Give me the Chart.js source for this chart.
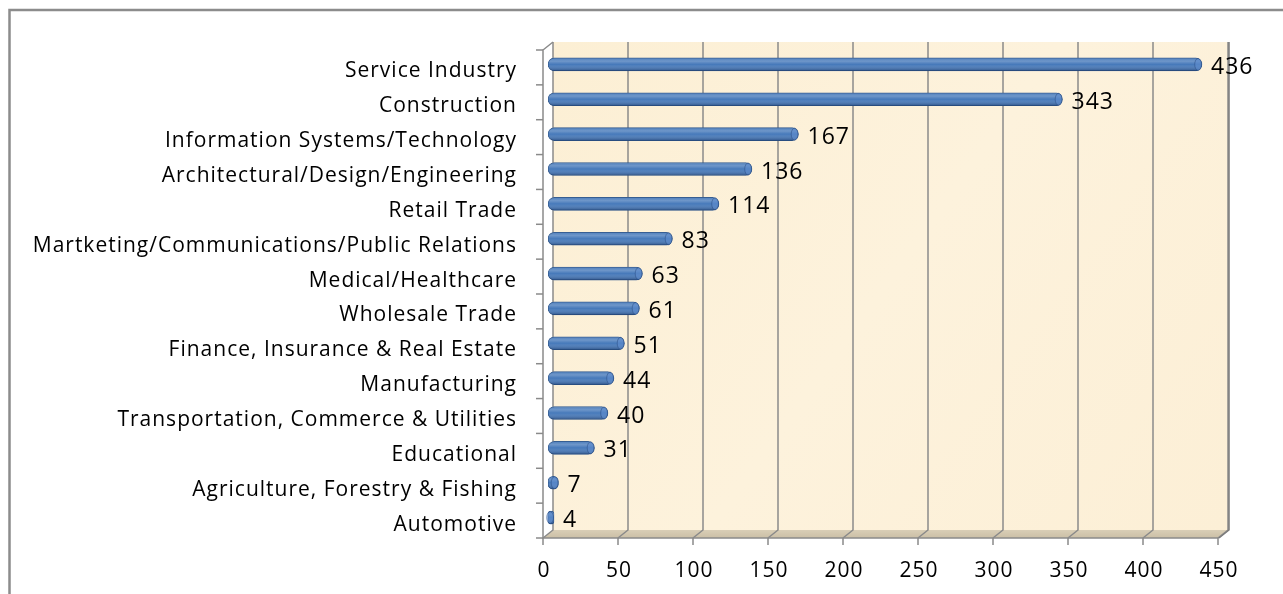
<!DOCTYPE html>
<html>
<head>
<meta charset="utf-8">
<script src="https://cdn.jsdelivr.net/npm/chart.js@4"></script>
<style>
  html,body{margin:0;padding:0;background:#fff;}
  canvas{display:block;}
</style>
</head>
<body>
<canvas id="chart" width="1283" height="594"></canvas>
<script>
// data
const categories = [
  'Service Industry',
  'Construction',
  'Information Systems/Technology',
  'Architectural/Design/Engineering',
  'Retail Trade',
  'Martketing/Communications/Public Relations',
  'Medical/Healthcare',
  'Wholesale Trade',
  'Finance, Insurance & Real Estate',
  'Manufacturing',
  'Transportation, Commerce & Utilities',
  'Educational',
  'Agriculture, Forestry & Fishing',
  'Automotive'
];
const counts = [436, 343, 167, 136, 114, 83, 63, 61, 51, 44, 40, 31, 7, 4];
const xTicks = [0, 50, 100, 150, 200, 250, 300, 350, 400, 450];

const FONT = '"Open Sans", "DejaVu Sans", sans-serif';
const GRID = '#8a8a8a';
// 3d depth offsets (back wall / front axis relative to bar plane)
const BX = 5, BY = -5, FX = -5, FY = 3;

const pseudo3d = {
  id:'pseudo3d',
  beforeDraw(chart){
    // wider text like the original
    chart.ctx.letterSpacing = '1px';
  },
  beforeDatasetsDraw(chart){
    const c = chart.ctx, ca = chart.chartArea, xs = chart.scales.x;
    const x0 = xs.getPixelForValue(0), x1 = xs.getPixelForValue(450);
    c.save();
    // outer frame
    c.strokeStyle = '#8c8c8c'; c.lineWidth = 2.5;
    c.beginPath(); c.moveTo(9.5, 594); c.lineTo(9.5, 10); c.lineTo(1283, 10); c.stroke();

    // back wall
    const top = ca.top + BY, bot = ca.bottom + BY;
    const g = c.createLinearGradient(x0, top, x1, bot);
    g.addColorStop(0, '#fcefd4'); g.addColorStop(0.5, '#fdf2dc'); g.addColorStop(1, '#fcefd6');
    c.fillStyle = g;
    c.fillRect(x0 + BX, top, x1 - x0, bot - top);

    // floor
    const fg = c.createLinearGradient(0, bot, 0, ca.bottom + FY);
    fg.addColorStop(0, '#d9ceb6'); fg.addColorStop(1, '#cbbfa6');
    c.fillStyle = fg;
    c.beginPath();
    c.moveTo(x0 + BX, bot); c.lineTo(x1 + BX, bot);
    c.lineTo(x1 + FX, ca.bottom + FY); c.lineTo(x0 + FX, ca.bottom + FY);
    c.closePath(); c.fill();

    // grid lines on back wall + floor
    c.strokeStyle = GRID; c.lineWidth = 1.5;
    xTicks.forEach(v => {
      const px = xs.getPixelForValue(v);
      c.beginPath();
      c.moveTo(px + BX, top); c.lineTo(px + BX, bot);
      c.lineTo(px + FX, ca.bottom + FY);
      c.stroke();
    });
    // right edge of wall
    c.strokeStyle = '#7a7a7a';
    c.beginPath(); c.moveTo(x1 + BX + 1, top); c.lineTo(x1 + BX + 1, bot); c.lineTo(x1 + FX + 1, ca.bottom + FY); c.stroke();

    // left wall edge + top diagonal
    c.strokeStyle = GRID; c.lineWidth = 1.5;
    c.beginPath();
    c.moveTo(x0 + BX, top); c.lineTo(x0 + FX, ca.top + FY);
    c.lineTo(x0 + FX, ca.bottom + FY);
    c.lineTo(x1 + FX, ca.bottom + FY);
    c.stroke();

    // x ticks + labels
    c.fillStyle = '#000'; c.font = '21px ' + FONT;
    c.textAlign = 'center'; c.textBaseline = 'middle';
    xTicks.forEach(v => {
      const px = xs.getPixelForValue(v) + FX;
      c.beginPath(); c.moveTo(px, ca.bottom + FY); c.lineTo(px, ca.bottom + FY + 7); c.stroke();
      c.fillText(String(v), px + 1, ca.bottom + 36);
    });

    // category tick marks on left axis
    const band = (ca.bottom - ca.top) / categories.length;
    for (let k = 0; k <= categories.length; k++) {
      const py = ca.top + k * band + FY;
      c.beginPath(); c.moveTo(x0 + FX - 7, py); c.lineTo(x0 + FX, py); c.stroke();
    }
    c.restore();
  },
  afterDatasetsDraw(chart){
    const c = chart.ctx;
    const meta = chart.getDatasetMeta(0);
    c.save();
    meta.data.forEach((bar, i) => {
      const p = bar.getProps(['x','y','base','height'], true);
      const h = p.height, t = p.y - h/2, l = p.base, r = p.x;
      // cylinder shading
      c.save();
      c.beginPath();
      c.roundRect(l, t, r - l, h, h/2);
      c.clip();
      const g = c.createLinearGradient(0, t, 0, t + h);
      g.addColorStop(0, 'rgba(255,255,255,0.05)');
      g.addColorStop(0.25, 'rgba(255,255,255,0.22)');
      g.addColorStop(0.5, 'rgba(255,255,255,0)');
      g.addColorStop(1, 'rgba(0,20,60,0.4)');
      c.fillStyle = g;
      c.fillRect(l, t, r - l, h);
      c.restore();
      // end cap
      c.beginPath();
      c.ellipse(r - h*0.3, p.y, h*0.26, h/2 - 0.5, 0, 0, Math.PI*2);
      c.fillStyle = 'rgba(95,140,205,0.6)';
      c.fill();
      c.strokeStyle = 'rgba(35,70,125,0.6)'; c.lineWidth = 0.8; c.stroke();
      // value label
      c.fillStyle = '#000'; c.font = '23px ' + FONT;
      c.textAlign = 'left'; c.textBaseline = 'middle';
      c.fillText(String(counts[i]), r + 9, p.y + 3);
    });
    c.restore();
  }
};

new Chart(document.getElementById('chart'), {
  type:'bar',
  data:{
    labels:categories,
    datasets:[{
      data:counts,
      backgroundColor:'#4679ba',
      borderColor:'#30598f',
      borderWidth:1,
      borderRadius:7,
      borderSkipped:false,
      barThickness:13
    }]
  },
  options:{
    indexAxis:'y',
    responsive:false,
    animation:false,
    layout:{padding:{top:47, right:60, bottom:0, left:0}},
    plugins:{legend:{display:false}, tooltip:{enabled:false}},
    scales:{
      x:{
        min:0, max:450,
        ticks:{display:false, stepSize:50},
        grid:{display:false},
        border:{display:false},
        afterFit(s){ s.height = 59; }
      },
      y:{
        grid:{display:false},
        border:{display:false},
        ticks:{color:'#000', font:{family:FONT, size:21}, padding:23, labelOffset:7, autoSkip:false},
        afterFit(s){ s.width = 548; }
      }
    }
  },
  plugins:[pseudo3d]
});
</script>
</body>
</html>
